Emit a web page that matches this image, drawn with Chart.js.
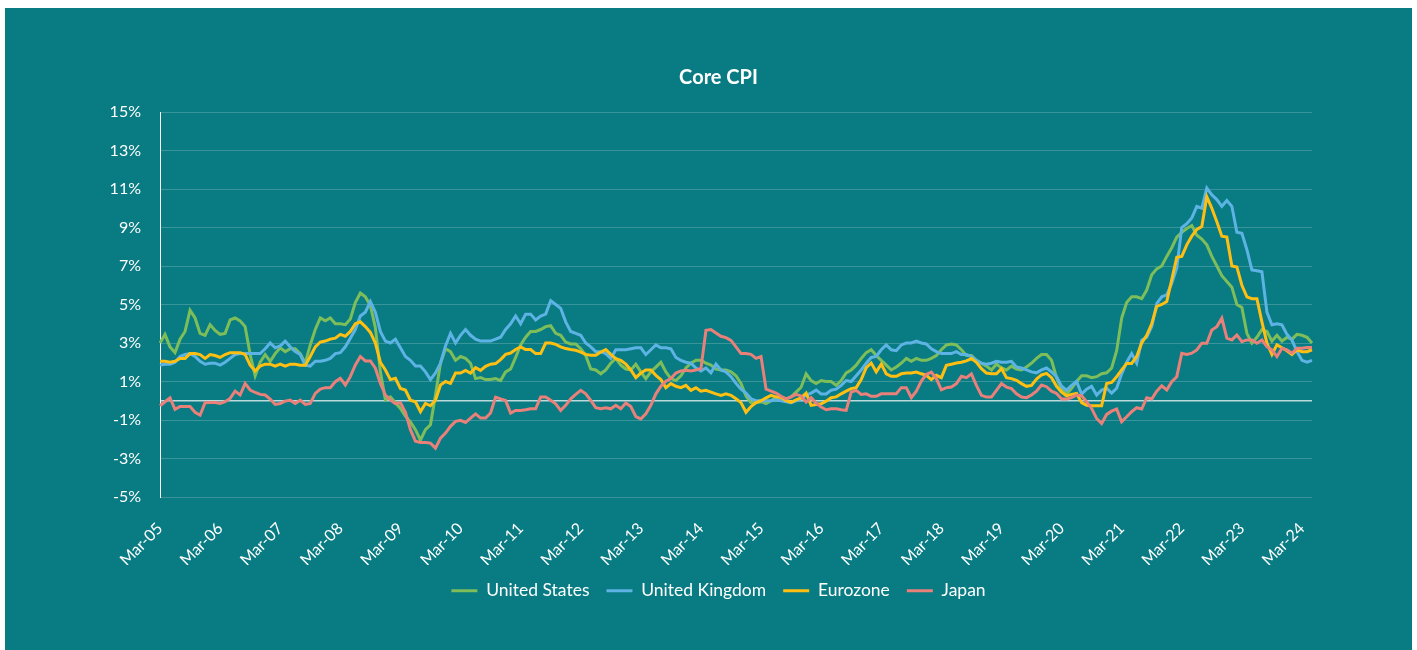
<!DOCTYPE html>
<html lang="en">
<head>
  <meta charset="UTF-8">
  <title>Core CPI</title>
  <script src="https://cdn.jsdelivr.net/npm/chart.js"></script>
  <style>
    body {
      margin: 0;
      background: #fff;
    }

    .card {
      position: absolute;
      left: 5px;
      top: 8px;
      width: 1407px;
      height: 642px;
      background: #097b83;
    }
  </style>
</head>
<body>

  <div class="card">
    <canvas id="chart" width="1407" height="642"></canvas>
  </div>

  <script>
    // monthly categories, Mar-05 .. May-24
    const MONTHS = ['Jan', 'Feb', 'Mar', 'Apr', 'May', 'Jun', 'Jul', 'Aug', 'Sep', 'Oct', 'Nov', 'Dec'];
    const START_YEAR = 2005;
    const START_MONTH = 2;
    const N_POINTS = 231;

    const categories = [];
    for (let k = 0; k < N_POINTS; k++) {
      const m = (START_MONTH + k) % 12;
      const y = START_YEAR + Math.floor((START_MONTH + k) / 12);
      categories.push(MONTHS[m] + '-' + String(y).slice(2));
    }

    const yTicks = [-5, -3, -1, 0, 1, 3, 5, 7, 9, 11, 13, 15];

    // values in %
    const unitedStates = [
      3.0, 3.45, 2.8, 2.5, 3.2, 3.6, 4.7, 4.3, 3.5, 3.4,
      3.95, 3.65, 3.45, 3.5, 4.2, 4.3, 4.15, 3.85, 2.4, 1.3,
      2.0, 2.4, 2.05, 2.45, 2.75, 2.55, 2.7, 2.7, 2.45, 1.95,
      2.9, 3.7, 4.3, 4.15, 4.3, 4.0, 4.0, 3.95, 4.25, 5.1,
      5.6, 5.4, 4.95, 3.8, 1.5, 0.05, 0.2, -0.1, -0.4, -0.8,
      -1.1, -1.5, -2.05, -1.5, -1.25, 0.3, 1.95, 2.7, 2.55, 2.1,
      2.3, 2.2, 1.95, 1.15, 1.2, 1.1, 1.1, 1.15, 1.05, 1.5,
      1.65, 2.25, 2.9, 3.3, 3.6, 3.6, 3.7, 3.85, 3.9, 3.5,
      3.4, 3.05, 2.95, 2.95, 2.7, 2.35, 1.65, 1.6, 1.4, 1.6,
      1.95, 2.2, 1.85, 1.65, 1.6, 1.9, 1.5, 1.15, 1.5, 1.75,
      2.0, 1.5, 1.15, 1.05, 1.3, 1.7, 1.95, 2.1, 2.1, 1.95,
      1.85, 1.65, 1.6, 1.6, 1.5, 1.3, 0.9, 0.25, -0.1, -0.1,
      -0.05, -0.15, 0.0, 0.2, 0.2, 0.1, 0.2, 0.45, 0.7, 1.4,
      1.05, 0.9, 1.05, 1.0, 1.0, 0.8, 1.05, 1.45, 1.6, 1.85,
      2.2, 2.5, 2.65, 2.35, 2.1, 1.85, 1.6, 1.75, 1.95, 2.2,
      2.05, 2.2, 2.1, 2.1, 2.2, 2.35, 2.65, 2.9, 2.95, 2.9,
      2.65, 2.35, 2.35, 2.1, 1.95, 1.8, 1.6, 1.9, 1.7, 1.6,
      1.8, 1.65, 1.6, 1.75, 1.95, 2.2, 2.4, 2.4, 2.1, 1.2,
      0.6, 0.35, 0.65, 1.0, 1.3, 1.3, 1.2, 1.25, 1.4, 1.45,
      1.7, 2.6, 4.3, 5.1, 5.4, 5.4, 5.3, 5.75, 6.55, 6.85,
      7.0, 7.5, 7.95, 8.5, 8.75, 8.95, 9.1, 8.6, 8.4, 8.1,
      7.5, 7.0, 6.5, 6.2, 5.9, 5.0, 4.85, 3.5, 3.0, 3.3,
      3.7, 3.6, 3.1, 3.4, 3.1, 3.3, 3.2, 3.45, 3.4, 3.3,
      3.0
    ];

    const unitedKingdom = [
      1.85, 1.9, 1.9, 2.0, 2.3, 2.4, 2.45, 2.3, 2.05, 1.9,
      1.95, 1.95, 1.85, 2.0, 2.2, 2.4, 2.45, 2.45, 2.45, 2.45,
      2.45, 2.7, 3.0, 2.75, 2.85, 3.1, 2.8, 2.55, 2.4, 1.85,
      1.8, 2.05, 2.05, 2.1, 2.2, 2.45, 2.5, 2.8, 3.25, 3.7,
      4.4, 4.6, 5.15, 4.6, 3.6, 3.1, 3.0, 3.2, 2.75, 2.3,
      2.1, 1.8, 1.8, 1.5, 1.1, 1.45, 1.95, 2.85, 3.5, 3.0,
      3.4, 3.7, 3.4, 3.2, 3.1, 3.1, 3.1, 3.2, 3.3, 3.7,
      4.0, 4.4, 4.0, 4.5, 4.5, 4.2, 4.4, 4.5, 5.2, 5.0,
      4.8, 4.1, 3.6, 3.5, 3.4, 3.0, 2.8, 2.55, 2.55, 2.45,
      2.2, 2.65, 2.65, 2.65, 2.7, 2.75, 2.75, 2.4, 2.65, 2.9,
      2.75, 2.75, 2.7, 2.25, 2.1, 2.0, 1.95, 1.7, 1.55, 1.7,
      1.45, 1.9, 1.6, 1.5, 1.25, 0.9, 0.6, 0.4, 0.1, 0.0,
      0.0, 0.0, 0.0, 0.05, 0.0, -0.05, -0.1, 0.0, 0.1, 0.3,
      0.4, 0.55, 0.35, 0.35, 0.55, 0.6, 0.8, 1.05, 1.0, 1.3,
      1.6, 1.95, 2.25, 2.3, 2.65, 2.9, 2.65, 2.6, 2.9, 3.0,
      3.0, 3.1, 3.0, 2.95, 2.7, 2.55, 2.45, 2.45, 2.45, 2.55,
      2.4, 2.4, 2.3, 2.1, 1.95, 1.9, 1.95, 2.05, 2.0, 2.0,
      2.05, 1.75, 1.7, 1.6, 1.5, 1.45, 1.6, 1.7, 1.5, 1.25,
      0.75, 0.55, 0.8, 1.0, 0.35, 0.6, 0.75, 0.3, 0.55, 0.65,
      0.4, 0.65, 1.4, 2.0, 2.45, 1.95, 3.15, 3.3, 3.85, 5.05,
      5.4, 5.5, 6.1, 6.9, 9.0, 9.2, 9.5, 10.1, 10.0, 11.05,
      10.7, 10.45, 10.1, 10.4, 10.1, 8.75, 8.7, 7.85, 6.8, 6.75,
      6.7, 4.6, 3.95, 4.0, 3.95, 3.45, 3.15, 2.55, 2.1, 2.0,
      2.1
    ];

    const eurozone = [
      2.05, 2.05, 2.0, 2.05, 2.2, 2.2, 2.45, 2.45, 2.4, 2.2,
      2.4, 2.35, 2.25, 2.4, 2.5, 2.5, 2.5, 2.4, 1.85, 1.55,
      1.8, 1.9, 1.9, 1.8, 1.9, 1.8, 1.9, 1.9, 1.85, 1.85,
      2.3, 2.8, 3.05, 3.1, 3.2, 3.25, 3.45, 3.35, 3.6, 4.0,
      4.1, 3.85, 3.55, 3.0, 2.0, 1.6, 1.1, 1.17, 0.64, 0.56,
      0.03, -0.05, -0.57, -0.14, -0.26, 0.03, 0.82, 1.0, 0.9, 1.44,
      1.44, 1.58, 1.44, 1.72, 1.58, 1.79, 1.9, 1.93, 2.14, 2.41,
      2.48, 2.66, 2.8, 2.66, 2.66, 2.45, 2.45, 3.0, 3.0, 2.93,
      2.8, 2.71, 2.66, 2.62, 2.53, 2.41, 2.36, 2.36, 2.53, 2.66,
      2.41, 2.19, 2.1, 1.9, 1.6, 1.2, 1.44, 1.6, 1.6, 1.32,
      1.1, 0.68, 0.89, 0.75, 0.68, 0.8, 0.54, 0.68, 0.5, 0.54,
      0.45, 0.36, 0.28, 0.36, 0.28, 0.1, -0.1, -0.6, -0.3, -0.1,
      0.0, 0.15, 0.28, 0.2, 0.17, 0.0, -0.08, 0.05, 0.15, 0.4,
      -0.24, -0.2, -0.16, -0.02, 0.16, 0.2, 0.36, 0.5, 0.63, 0.68,
      1.1, 1.72, 1.96, 1.5, 1.9, 1.4, 1.27, 1.27, 1.4, 1.44,
      1.44, 1.49, 1.4, 1.32, 1.1, 1.32, 1.2, 1.84, 1.9, 1.96,
      2.0, 2.07, 2.19, 2.0, 1.67, 1.44, 1.4, 1.4, 1.67, 1.2,
      1.15, 1.06, 0.89, 0.75, 0.8, 1.13, 1.34, 1.42, 1.2, 0.75,
      0.45, 0.26, 0.33, 0.38, -0.1, -0.23, -0.26, -0.26, -0.26, 0.9,
      0.95, 1.25, 1.6, 1.94, 1.94, 2.3, 3.0, 3.4, 4.0, 4.9,
      5.0, 5.15, 6.3, 7.45, 7.5, 8.1, 8.55, 8.9, 9.05, 10.6,
      10.0, 9.3, 8.55, 8.5, 7.0, 6.95, 6.0, 5.4, 5.3, 5.3,
      4.1, 3.0, 2.4, 2.9, 2.75, 2.6, 2.4, 2.65, 2.55, 2.55,
      2.65
    ];

    const japan = [
      -0.26, -0.05, 0.15, -0.45, -0.3, -0.3, -0.3, -0.6, -0.75, -0.1,
      -0.09, -0.09, -0.14, -0.05, 0.12, 0.5, 0.3, 0.9, 0.56, 0.43,
      0.33, 0.3, 0.09, -0.19, -0.14, -0.02, 0.03, -0.14, 0.03, -0.19,
      -0.14, 0.38, 0.61, 0.68, 0.68, 0.99, 1.17, 0.82, 1.25, 1.86,
      2.3, 2.07, 2.07, 1.69, 0.9, 0.3, 0.05, -0.15, -0.1, -0.6,
      -1.5, -2.1, -2.17, -2.17, -2.2, -2.46, -1.94, -1.68, -1.33, -1.07,
      -1.02, -1.13, -0.9, -0.68, -0.9, -0.9, -0.64, 0.19, 0.1, 0.02,
      -0.64, -0.5, -0.5, -0.47, -0.42, -0.42, 0.19, 0.19, 0.02, -0.16,
      -0.5, -0.24, 0.1, 0.33, 0.54, 0.36, 0.02, -0.36, -0.42, -0.36,
      -0.42, -0.24, -0.42, -0.12, -0.3, -0.82, -0.94, -0.68, -0.24, 0.36,
      0.75, 1.02, 1.15, 1.44, 1.55, 1.58, 1.55, 1.6, 1.67, 3.66,
      3.7, 3.52, 3.35, 3.28, 3.14, 2.8, 2.45, 2.45, 2.41, 2.2,
      2.3, 0.6, 0.5, 0.4, 0.23, 0.1, 0.2, 0.33, 0.25, -0.07,
      0.16, -0.12, -0.33, -0.47, -0.42, -0.42, -0.47, -0.5, 0.45, 0.54,
      0.33, 0.36, 0.23, 0.23, 0.36, 0.36, 0.36, 0.36, 0.68, 0.68,
      0.16, 0.5, 1.02, 1.37, 1.49, 1.15, 0.57, 0.68, 0.71, 0.89,
      1.27, 1.2, 1.4, 0.8, 0.28, 0.19, 0.19, 0.54, 0.89, 0.71,
      0.63, 0.36, 0.19, 0.16, 0.3, 0.5, 0.82, 0.73, 0.5, 0.38,
      0.09, 0.09, 0.16, 0.3, 0.26, -0.05, -0.4, -0.92, -1.18, -0.71,
      -0.54, -0.43, -1.09, -0.83, -0.57, -0.36, -0.43, 0.16, 0.09, 0.5,
      0.78, 0.56, 0.99, 1.25, 2.47, 2.41, 2.47, 2.64, 2.99, 2.99,
      3.68, 3.85, 4.29, 3.25, 3.16, 3.42, 3.07, 3.16, 3.16, 2.99,
      3.16, 2.81, 2.64, 2.29, 2.73, 2.64, 2.47, 2.73, 2.73, 2.76,
      2.76
    ];

    Chart.defaults.font.family = 'Lato, "Open Sans", sans-serif';
    Chart.defaults.color = '#ffffff';

    function series(label, data, color, order) {
      return {
        label: label,
        data: data,
        borderColor: color,
        backgroundColor: color,
        borderWidth: 3,
        pointRadius: 0,
        tension: 0,
        fill: false,
        yAxisID: 'y',
        order: order
      };
    }

    const chart = new Chart(document.getElementById('chart'), {
      type: 'line',
      data: {
        labels: categories,
        datasets: [
          series('United States', unitedStates, '#7dbd5a', 4),
          series('United Kingdom', unitedKingdom, '#5cb3e4', 3),
          series('Eurozone', eurozone, '#ffbf12', 2),
          series('Japan', japan, '#e9807a', 1)
        ]
      },
      options: {
        responsive: false,
        animation: false,
        layout: {
          padding: { left: 20, right: 0, top: 0, bottom: 40.5 }
        },
        plugins: {
          title: {
            display: true,
            text: 'Core CPI',
            color: '#ffffff',
            font: { size: 20, weight: 'bold' },
            padding: { top: 58, bottom: 22 }
          },
          legend: {
            position: 'bottom',
            labels: {
              boxWidth: 26,
              boxHeight: 3,
              padding: 17,
              color: '#ffffff',
              font: { size: 17.5 },
              sort: (a, b) => a.datasetIndex - b.datasetIndex,
              generateLabels: function (c) {
                const items = Chart.defaults.plugins.legend.labels.generateLabels(c);
                items.forEach(it => { it.lineWidth = 0; });
                return items;
              }
            }
          },
          tooltip: { enabled: false }
        },
        scales: {
          x: {
            grid: { display: false },
            border: { display: false },
            afterFit: function (scale) { scale.height = 68; },
            ticks: {
              autoSkip: false,
              minRotation: 45,
              maxRotation: 45,
              padding: 14,
              font: { size: 16 },
              callback: function (value, index) {
                const lab = categories[index];
                return lab.startsWith('Mar') ? lab : null;
              }
            }
          },
          y: {
            min: -5,
            max: 15,
            afterFit: function (scale) { scale.width = 135; },
            afterBuildTicks: function (scale) {
              scale.ticks = yTicks.map(v => ({ value: v }));
            },
            border: { display: true, color: '#ffffff', width: 1 },
            grid: {
              drawTicks: false,
              color: ctx => ctx.tick && ctx.tick.value === 0 ? 'rgba(255,255,255,0.72)' : 'rgba(255,255,255,0.2)',
              lineWidth: ctx => ctx.tick && ctx.tick.value === 0 ? 1.5 : 1
            },
            ticks: {
              padding: 19,
              font: { size: 16 },
              callback: v => v === 0 ? '' : v + '%'
            }
          },
          // empty right-hand margin, keeps title and legend centred on the card
          spacer: {
            type: 'linear',
            position: 'right',
            display: true,
            afterFit: function (scale) { scale.width = 100; },
            grid: { display: false, drawTicks: false },
            border: { display: false },
            ticks: { display: false }
          }
        }
      }
    });
  </script>

</body>
</html>
